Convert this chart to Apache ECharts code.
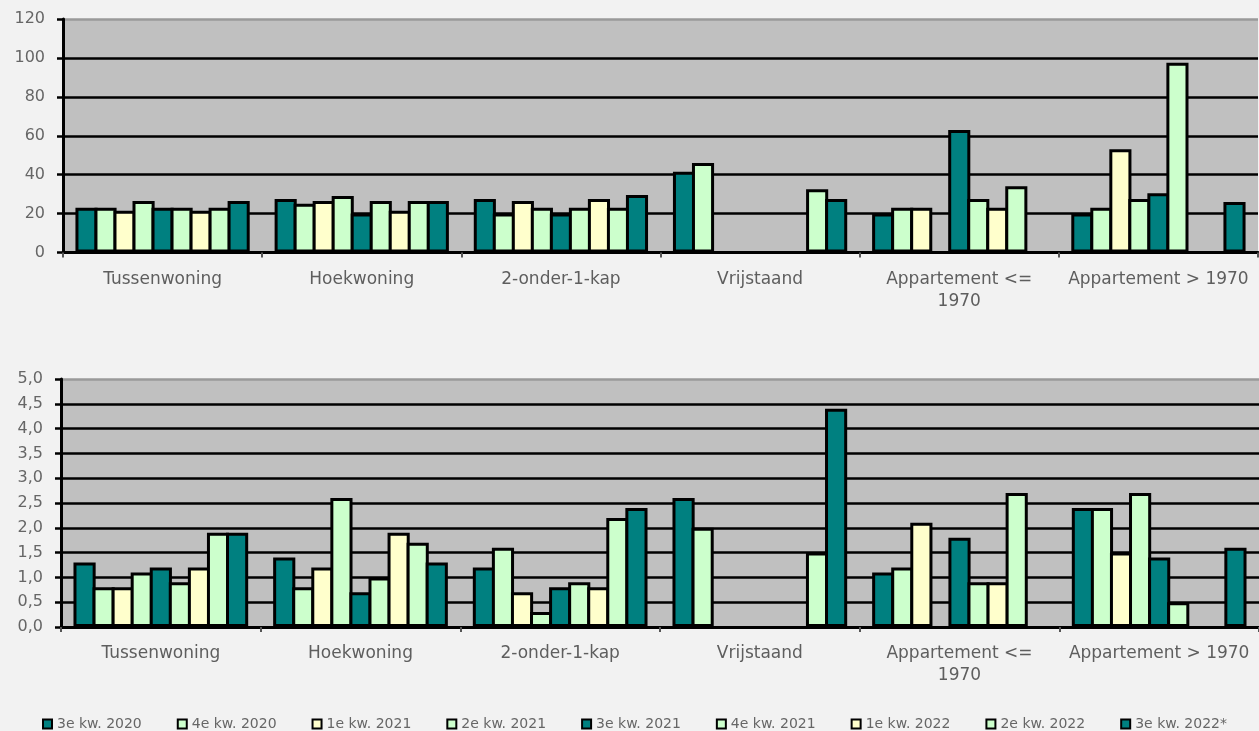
<!DOCTYPE html>
<html>
<head>
<meta charset="utf-8">
<script src="https://cdn.jsdelivr.net/npm/echarts@6/dist/echarts.min.js"></script>
<style>
html,body{margin:0;padding:0;background:#f2f2f2;}
#chart{width:1259px;height:731px;}
</style>
</head>
<body>
<div id="chart"></div>
<script>
// Categories and series
const categories = ['Tussenwoning', 'Hoekwoning', '2-onder-1-kap', 'Vrijstaand', 'Appartement <=\n1970', 'Appartement > 1970'];
const seriesNames = ['3e kw. 2020', '4e kw. 2020', '1e kw. 2021', '2e kw. 2021', '3e kw. 2021', '4e kw. 2021', '1e kw. 2022', '2e kw. 2022', '3e kw. 2022*'];
const seriesColors = ['#008080', '#ccffcc', '#ffffcc', '#ccffcc', '#008080', '#ccffcc', '#ffffcc', '#ccffcc', '#008080'];

// Upper chart values (per series, per category)
const top_3e_2020 = [23, 27.5, 27.5, 41.5, 20, 20];
const top_4e_2020 = [23, 25, 20, 46, 23, 23];
const top_1e_2021 = [21.5, 26.5, 26.5, null, 23, 53];
const top_2e_2021 = [26.5, 29, 23, null, null, 27.5];
const top_3e_2021 = [23, 20, 20, null, 63, 30.5];
const top_4e_2021 = [23, 26.5, 23, null, 27.5, 97.5];
const top_1e_2022 = [21.5, 21.5, 27.5, null, 23, null];
const top_2e_2022 = [23, 26.5, 23, 32.5, 34, null];
const top_3e_2022 = [26.5, 26.5, 29.5, 27.5, null, 26];

// Lower chart values
const bot_3e_2020 = [1.3, 1.4, 1.2, 2.6, 1.1, 2.4];
const bot_4e_2020 = [0.8, 0.8, 1.6, 2.0, 1.2, 2.4];
const bot_1e_2021 = [0.8, 1.2, 0.7, null, 2.1, 1.5];
const bot_2e_2021 = [1.1, 2.6, 0.3, null, null, 2.7];
const bot_3e_2021 = [1.2, 0.7, 0.8, null, 1.8, 1.4];
const bot_4e_2021 = [0.9, 1.0, 0.9, null, 0.9, 0.5];
const bot_1e_2022 = [1.2, 1.9, 0.8, null, 0.9, null];
const bot_2e_2022 = [1.9, 1.7, 2.2, 1.5, 2.7, null];
const bot_3e_2022 = [1.9, 1.3, 2.4, 4.4, null, 1.6];

// Axis ranges
const topAxis = {min: 0, max: 120, interval: 20};
const botAxis = {min: 0, max: 5, interval: 0.5};

const topData = [top_3e_2020, top_4e_2020, top_1e_2021, top_2e_2021, top_3e_2021, top_4e_2021, top_1e_2022, top_2e_2022, top_3e_2022];
const botData = [bot_3e_2020, bot_4e_2020, bot_1e_2021, bot_2e_2021, bot_3e_2021, bot_4e_2021, bot_1e_2022, bot_2e_2022, bot_3e_2022];

function xAxisCfg(gridIndex) {
  return {
    type: 'category', gridIndex: gridIndex, data: categories,
    axisLine: {lineStyle: {color: '#000', width: 3}},
    axisTick: {show: true, alignWithLabel: false, length: 5, lineStyle: {color: '#555', width: 2}},
    axisLabel: {margin: 16, lineHeight: 22, interval: 0, fontFamily: 'DejaVu Sans', fontSize: 17, color: '#5e5e5e'},
    splitLine: {show: false}
  };
}
function splitColors(n) {
  const arr = [];
  for (let i = 0; i < n; i++) arr.push(i === n - 1 ? '#9a9a9a' : '#000');
  return arr;
}
function yAxisCfg(gridIndex, ax, fmt) {
  const n = Math.round((ax.max - ax.min) / ax.interval) + 1;
  return {
    type: 'value', gridIndex: gridIndex, min: ax.min, max: ax.max, interval: ax.interval,
    axisLine: {show: true, lineStyle: {color: '#000', width: 3}},
    axisTick: {show: true, length: 6, lineStyle: {color: '#000', width: 2.5}},
    axisLabel: {margin: 18, formatter: fmt, fontFamily: 'DejaVu Sans', fontSize: 16, color: '#666'},
    splitLine: {show: true, lineStyle: {color: splitColors(n), width: 2.5}}
  };
}

const series = [];
seriesNames.forEach(function (name, i) {
  const common = {
    name: name, type: 'bar', barGap: '-14%', barCategoryGap: '12.5%',
    itemStyle: {color: seriesColors[i], borderColor: '#000', borderWidth: 3},
    emphasis: {disabled: true}
  };
  series.push(Object.assign({}, common, {xAxisIndex: 0, yAxisIndex: 0, data: topData[i]}));
  series.push(Object.assign({}, common, {xAxisIndex: 1, yAxisIndex: 1, data: botData[i]}));
});

const chart = echarts.init(document.getElementById('chart'), null, {renderer: 'canvas'});
chart.setOption({
  backgroundColor: '#f2f2f2',
  animation: false,
  grid: [
    {left: 63, right: 1, top: 19, height: 233.5, show: true, backgroundColor: '#c0c0c0', borderWidth: 0},
    {left: 61, right: 0, top: 379, height: 248, show: true, backgroundColor: '#c0c0c0', borderWidth: 0}
  ],
  legend: {
    data: seriesNames,
    left: 37, top: 712,
    icon: 'rect', itemWidth: 9, itemHeight: 9, itemGap: 35,
    itemTextGap: 5,
    textStyle: {fontFamily: 'DejaVu Sans', fontSize: 14, color: '#666'},
    itemStyle: {borderColor: '#000', borderWidth: 2},
    selectedMode: false
  },
  xAxis: [xAxisCfg(0), xAxisCfg(1)],
  yAxis: [
    yAxisCfg(0, topAxis, function (v) { return String(v); }),
    yAxisCfg(1, botAxis, function (v) { return v.toFixed(1).replace('.', ','); })
  ],
  series: series
});
</script>
</body>
</html>
